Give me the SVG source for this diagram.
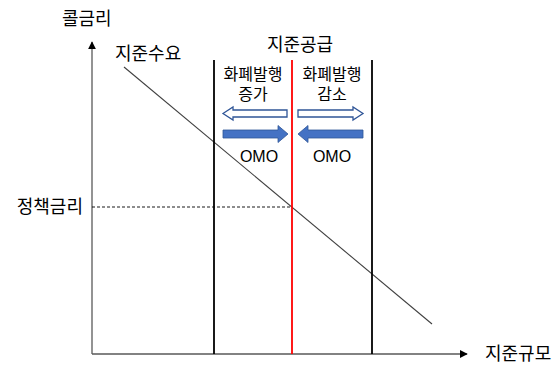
<svg xmlns="http://www.w3.org/2000/svg" width="558" height="366" viewBox="0 0 558 366">
<defs>
<marker id="ah" viewBox="0 0 10 10" refX="9" refY="5" markerWidth="8" markerHeight="8" markerUnits="userSpaceOnUse" orient="auto"><path d="M0,0 L10,5 L0,10 z" fill="#000"/></marker>
<style>
text{font-family:"Noto Sans CJK KR","Malgun Gothic",sans-serif;fill:#000;}
.big{font-size:18px;}
.mid{font-size:16px;}
.omo{font-size:16px;font-family:"Liberation Sans","Noto Sans CJK KR",sans-serif;}
.axis{stroke:#595959;stroke-width:1.3;fill:none;}
.vl{stroke:#000;stroke-width:1.8;}
.hollow{fill:#fff;stroke:#2F5597;stroke-width:1.3;}
.solid{fill:#4472C4;stroke:#2F5597;stroke-width:0.8;}
</style>
</defs>
<g id="connectors">
<line class="axis" x1="92" y1="354" x2="92" y2="42" marker-end="url(#ah)"/>
<line class="axis" x1="92" y1="354" x2="467" y2="354" marker-end="url(#ah)"/>
<line x1="124" y1="67" x2="432" y2="324" stroke="#404040" stroke-width="1.1"/>
<line x1="92" y1="207" x2="292" y2="207" stroke="#000" stroke-width="0.9" stroke-dasharray="3,2"/>
</g>
<g id="supply-lines">
<line class="vl" x1="214" y1="60" x2="214" y2="354"/>
<line class="vl" x1="372" y1="60" x2="372" y2="354"/>
<line x1="292" y1="60" x2="292" y2="354" stroke="#FF0000" stroke-width="1.8"/>
</g>
<g id="labels">
<text class="big" x="62" y="25">콜금리</text>
<text class="big" x="115" y="60">지준수요</text>
<text class="big" x="300" y="51" text-anchor="middle">지준공급</text>
<text class="big" x="83" y="213" text-anchor="end">정책금리</text>
<text class="big" x="485" y="360">지준규모</text>
</g>
<g id="left-box">
<text class="mid" x="253" y="80" text-anchor="middle">화폐발행</text>
<text class="mid" x="253" y="100" text-anchor="middle">증가</text>
<path class="hollow" d="M223,113.5 L233,107 L233,110 L287,110 L287,117 L233,117 L233,120 Z"/>
<path class="solid" d="M223,130 L278,130 L278,125.5 L288,134 L278,142.5 L278,138 L223,138 Z"/>
<text class="omo" x="259" y="162" text-anchor="middle">OMO</text>
</g>
<g id="right-box">
<text class="mid" x="332" y="80" text-anchor="middle">화폐발행</text>
<text class="mid" x="332" y="100" text-anchor="middle">감소</text>
<path class="hollow" d="M298,110 L353,110 L353,107 L363,113.5 L353,120 L353,117 L298,117 Z"/>
<path class="solid" d="M298,134 L308,125.5 L308,130 L363,130 L363,138 L308,138 L308,142.5 Z"/>
<text class="omo" x="332" y="162" text-anchor="middle">OMO</text>
</g>
</svg>
